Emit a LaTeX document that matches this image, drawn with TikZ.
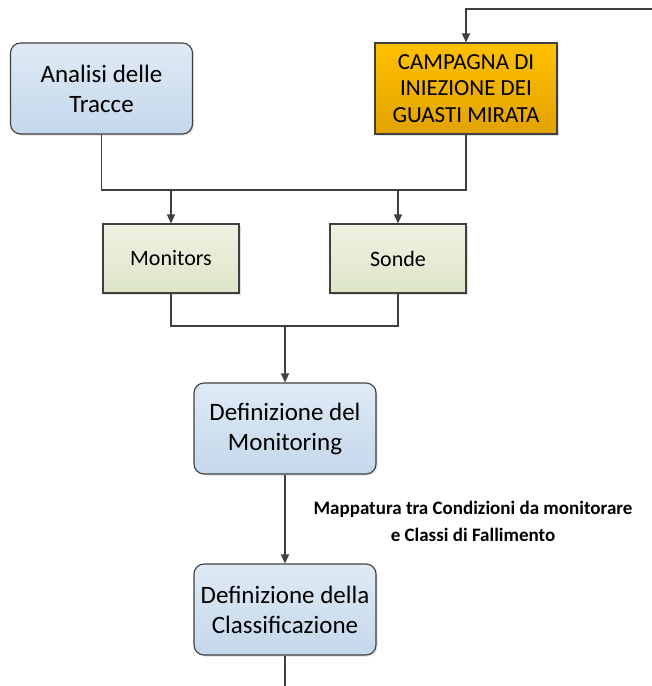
\documentclass[tikz,border=0pt]{standalone}
\usepackage{fontspec}
\setmainfont{Carlito}
\usetikzlibrary{arrows.meta,shadows}
\definecolor{edge}{HTML}{404040}
\definecolor{blueTop}{HTML}{DFEAF5}
\definecolor{blueBot}{HTML}{C4D7EB}
\definecolor{orangeTop}{HTML}{FFC000}
\definecolor{orangeBot}{HTML}{E2A200}
\definecolor{greenTop}{HTML}{EEF2E2}
\definecolor{greenBot}{HTML}{DDE5C8}
\tikzset{
  box/.style={draw=edge, line width=1.1pt, align=center, inner sep=0pt,
    drop shadow={shadow xshift=1.5pt, shadow yshift=-1.5pt, opacity=0.25}},
  bigbox/.style={box, minimum width=182pt, minimum height=91pt},
  roundbox/.style={bigbox, rounded corners=10pt, top color=blueTop, bottom color=blueBot,
    font=\fontsize{25}{30}\selectfont},
  orangebox/.style={bigbox, top color=orangeTop, bottom color=orangeBot,
    font=\fontsize{23}{26.5}\selectfont},
  smallbox/.style={box, minimum width=136pt, minimum height=69pt,
    font=\fontsize{22}{26}\selectfont, top color=greenTop, bottom color=greenBot},
  link/.style={draw=edge, line width=1.1pt},
  arrow/.style={link, -{Triangle[length=9pt,width=8pt]}},
}
\begin{document}
\begin{tikzpicture}[x=1pt,y=-1pt]
  \useasboundingbox (0,0) rectangle (652,686);

  % boxes
  \node[roundbox]  (analisi)  at (101.5,88.5) {Analisi delle\\Tracce};
  \node[orangebox] (campagna) at (466,88.5) {CAMPAGNA DI\\INIEZIONE DEI\\GUASTI MIRATA};
  \node[smallbox]  (monitors) at (171,258.5) {Monitors};
  \node[smallbox]  (sonde)    at (398,258.5) {Sonde};
  \node[roundbox]  (defmon)   at (285,428.5) {Definizione del\\Monitoring};
  \node[roundbox]  (defcla)   at (285,609.5) {Definizione della\\Classificazione};

  % free ends and junction levels
  \coordinate (feedback) at (652,9);
  \coordinate (exit) at (285,686);
  \coordinate (joinA) at (0,190);
  \coordinate (joinB) at (0,326);

  % connectors
  \draw[arrow] (feedback) -| (campagna.north);
  \draw[link] (analisi.south) -- (analisi.south |- joinA) -- (campagna.south |- joinA) -- (campagna.south);
  \draw[arrow] (monitors.north |- joinA) -- (monitors.north);
  \draw[arrow] (sonde.north |- joinA) -- (sonde.north);
  \draw[link] (monitors.south) -- (monitors.south |- joinB) -- (sonde.south |- joinB) -- (sonde.south);
  \draw[arrow] (defmon.north |- joinB) -- (defmon.north);
  \draw[arrow] (defmon.south) -- (defcla.north);
  \draw[link] (defcla.south) -- (exit);

  % label of the mapping step
  \node[font=\fontsize{19}{27}\selectfont\bfseries, align=center] (maplabel) at (473,521)
    {Mappatura tra Condizioni da monitorare\\e Classi di Fallimento};
\end{tikzpicture}
\end{document}
